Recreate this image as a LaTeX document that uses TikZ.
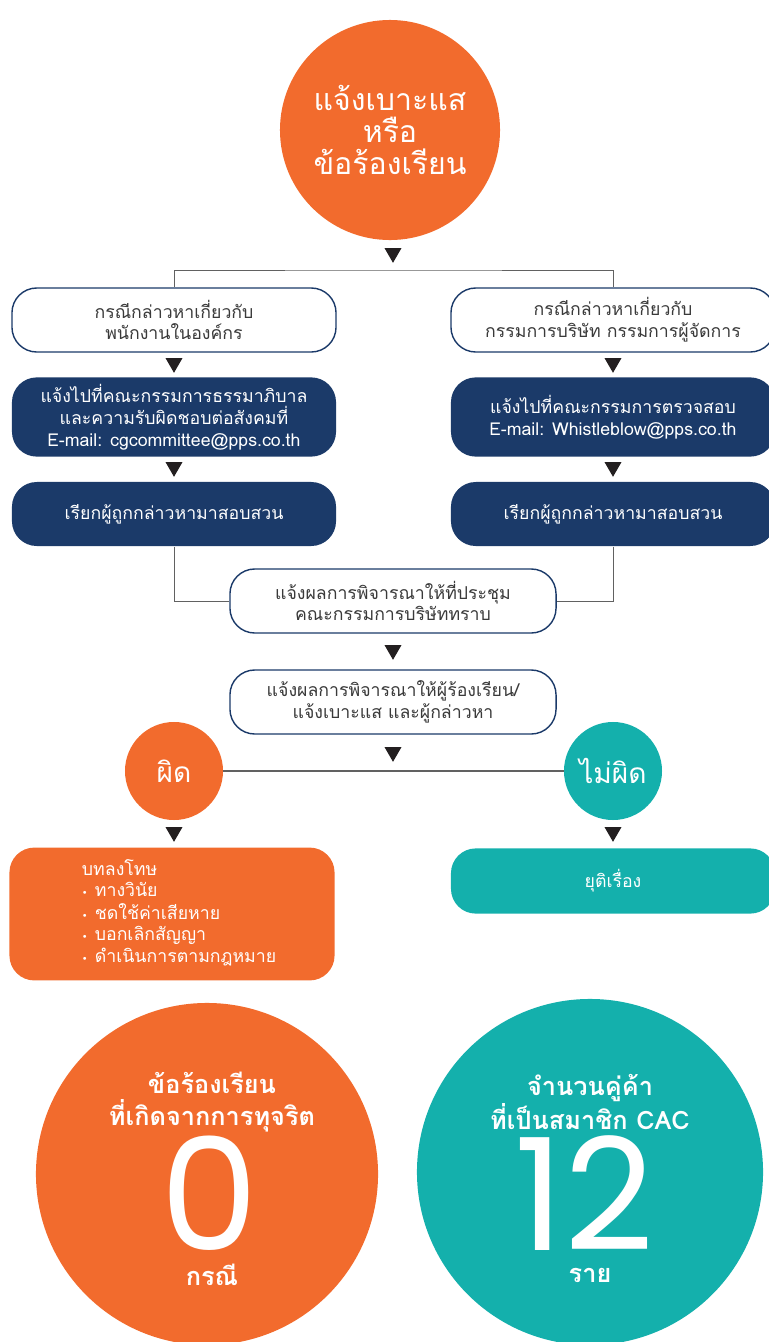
\documentclass[tikz,border=0pt]{standalone}
\usepackage{fontspec}
\usetikzlibrary{shapes.geometric}
\newfontfamily\thaifont[Script=Thai]{Loma}
\newfontfamily\numfont{Poppins}
\newfontfamily\symfont{DejaVu Sans}
\newcommand{\pdot}{{\symfont\fontsize{7}{7}\selectfont •}\hspace{0.4em}}
\definecolor{ppsorange}{HTML}{F26B2D}
\definecolor{ppsnavy}{HTML}{1B3A69}
\definecolor{ppsteal}{HTML}{14B0AC}
\definecolor{ppsdark}{HTML}{231F20}
\definecolor{ppsgrey}{HTML}{3A3A3A}
\begin{document}
\begin{tikzpicture}[x=0.025cm, y=-0.025cm,
        every node/.style={font=\thaifont},
        startcircle/.style={circle, fill=ppsorange, text=white, align=center, minimum size=5.5cm, inner sep=0pt, font=\thaifont\fontsize{21.5}{22.5}\selectfont},
        casebox/.style={rectangle, rounded corners=0.62cm, draw=ppsnavy, line width=1pt, fill=white, text=ppsgrey, minimum width=8.1cm, minimum height=1.6cm, align=center, font=\thaifont\fontsize{12.6}{15.5}\selectfont},
        navybox/.style={casebox, draw=none, fill=ppsnavy, text=white},
        verdict/.style={circle, minimum size=2.45cm, inner sep=0pt, text=white, font=\thaifont\fontsize{20}{24}\selectfont},
        statcircle/.style={circle, inner sep=0pt},
        stathead/.style={text=white, align=center, font=\thaifont\bfseries\fontsize{18}{22.7}\selectfont},
        statnum/.style={text=white, inner sep=0pt, anchor=south, text height=2.75cm, text depth=0pt, font=\numfont\fontsize{111}{111}\selectfont},
        downtip/.style={regular polygon, regular polygon sides=3, shape border rotate=180, fill=ppsdark, minimum size=0.49cm, inner sep=0pt},
        link/.style={draw=ppsgrey!80, line width=0.6pt}
    ]
    \useasboundingbox (0,0) rectangle (769,1342);
    % Nodes
    \node[startcircle] (start) at (390,130) {แจ้งเบาะแส\\หรือ\\ข้อร้องเรียน};
    \node[downtip] (t0) at (393,253) {};
    \coordinate (split) at (393,270);
    \node[casebox] (staff) at (174,320) {กรณีกล่าวหาเกี่ยวกับ\\พนักงานในองค์กร};
    \node[casebox] (board) at (613,320) {กรณีกล่าวหาเกี่ยวกับ\\กรรมการบริษัท กรรมการผู้จัดการ};
    \node[downtip] (t1) at (174,363) {};
    \node[downtip] (t2) at (613,363) {};
    \node[navybox, minimum height=1.98cm] (cgmail) at (174,417) {แจ้งไปที่คณะกรรมการธรรมาภิบาล\\และความรับผิดชอบต่อสังคมที่\\E-mail: cgcommittee@pps.co.th};
    \node[navybox, minimum height=1.98cm] (acmail) at (613,417) {แจ้งไปที่คณะกรรมการตรวจสอบ\\E-mail: Whistleblow@pps.co.th};
    \node[downtip] (t3) at (174,467) {};
    \node[downtip] (t4) at (613,467) {};
    \node[navybox] (probe1) at (174,514) {เรียกผู้ถูกกล่าวหามาสอบสวน};
    \node[navybox] (probe2) at (613,514) {เรียกผู้ถูกกล่าวหามาสอบสวน};
    \node[casebox, minimum width=8.15cm] (report) at (393,601) {แจ้งผลการพิจารณาให้ที่ประชุม\\คณะกรรมการบริษัททราบ};
    \node[downtip] (t5) at (393,650) {};
    \node[casebox, minimum width=8.15cm] (notify) at (393,702) {แจ้งผลการพิจารณาให้ผู้ร้องเรียน/\\แจ้งเบาะแส และผู้กล่าวหา};
    \node[downtip] (t6) at (393,752) {};
    \node[verdict, fill=ppsorange] (guilty) at (174,771) {ผิด};
    \node[verdict, fill=ppsteal] (innocent) at (613,771) {ไม่ผิด};
    \node[downtip] (t7) at (174,832) {};
    \node[downtip] (t8) at (613,832) {};
    \node[casebox, draw=none, fill=ppsorange, text=white, minimum width=8.125cm, minimum height=3.32cm, text width=7.6cm, inner xsep=0.25cm, align=left, font=\thaifont\fontsize{12.6}{15.3}\selectfont] (penalty) at (172,914)
        {\hspace*{1.55cm}\begin{tabular}{@{}l@{}}บทลงโทษ\\\pdot ทางวินัย\\\pdot ชดใช้ค่าเสียหาย\\\pdot บอกเลิกสัญญา\\\pdot ดำเนินการตามกฎหมาย\end{tabular}};
    \node[casebox, draw=none, fill=ppsteal, text=white, minimum height=1.63cm] (close) at (613,881) {ยุติเรื่อง};
    % Statistics
    \node[statcircle, fill=ppsorange, minimum size=8.55cm] (fraud) at (207,1174) {};
    \node[stathead] (fraudhead) at (212,1102) {ข้อร้องเรียน\\ที่เกิดจากการทุจริต};
    \node[statnum] (fraudnum) at (210,1251) {0};
    \node[stathead] (fraudunit) at (212,1275) {กรณี};
    \node[statcircle, fill=ppsteal, minimum size=8.65cm] (cac) at (590,1172) {};
    \node[stathead] (cachead) at (590,1102) {จำนวนคู่ค้า\\ที่เป็นสมาชิก CAC};
    \node[statnum] (cacnum) at (584,1251) {12};
    \node[stathead] (cacunit) at (590,1275) {ราย};
    % Edges
    \draw[link] (staff.north) |- (split) -| (board.north);
    \draw[link] (probe1.south) |- (report.west);
    \draw[link] (probe2.south) |- (report.east);
    \draw[link, line width=1pt] (guilty) -- (innocent);
\end{tikzpicture}
\end{document}
